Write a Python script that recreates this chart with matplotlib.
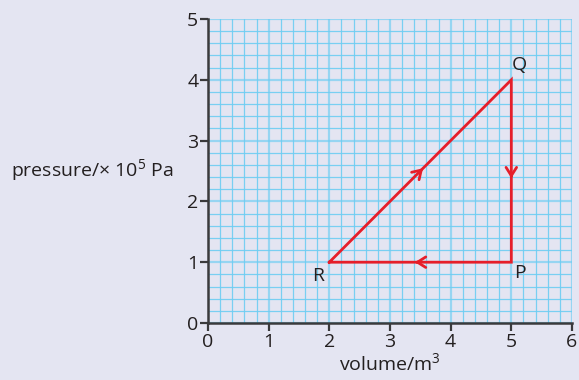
import matplotlib.pyplot as plt
import numpy as np

plt.rcParams['font.family'] = ['Open Sans', 'DejaVu Sans']
plt.rcParams['mathtext.fontset'] = 'custom'
plt.rcParams['mathtext.rm'] = 'Open Sans'

# cycle R -> Q -> P -> R
cycle_labels = ["R", "Q", "P"]
volume = [2, 5, 5]
pressure = [1, 4, 1]
# where the direction arrows sit along each leg (fraction of the leg)
arrow_frac = [0.515, 0.54, 0.53]

bg = "#e4e5f2"
grid_col = "#6dcdf3"
red = "#e61e2a"
ink = "#231f20"

fig = plt.figure(figsize=(5.79, 3.80), dpi=100, facecolor=bg)
ax = fig.add_axes([0.3592, 0.15, 0.6287, 0.80], facecolor=bg)

ax.set_xlim(0, 6)
ax.set_ylim(0, 5)
ax.set_xticks(np.arange(0, 7))
ax.set_yticks(np.arange(0, 6))
ax.set_xticks(np.arange(0, 6.01, 0.2), minor=True)
ax.set_yticks(np.arange(0, 5.01, 0.2), minor=True)
ax.grid(which="minor", color=grid_col, lw=0.9, alpha=0.9)
ax.grid(which="major", color=grid_col, lw=1.6, alpha=0.65)
ax.set_axisbelow(True)
ax.tick_params(which="minor", length=0)
ax.tick_params(which="major", length=6, width=1.6, color="#3a3a3c",
               labelsize=14, labelcolor=ink)
ax.tick_params(axis="x", pad=1)
ax.tick_params(axis="y", pad=1)
for s in ["top", "right"]:
    ax.spines[s].set_visible(False)
for s in ["left", "bottom"]:
    ax.spines[s].set_color("#3a3a3c")
    ax.spines[s].set_linewidth(1.8)
    ax.spines[s].set_zorder(5)

ax.set_xlabel(r"volume/m$^3$", fontsize=14, color=ink, labelpad=1)
ax.set_ylabel(r"pressure/$\times$ 10$^5$ Pa", fontsize=14, color=ink,
              rotation=0, ha="right", va="center", labelpad=10)

# closed cycle
xs = volume + volume[:1]
ys = pressure + pressure[:1]
ax.plot(xs, ys, color=red, lw=2, solid_joinstyle="miter", zorder=3)

# direction chevrons
for i in range(3):
    x0, y0 = xs[i], ys[i]
    x1, y1 = xs[i + 1], ys[i + 1]
    f = arrow_frac[i]
    mx, my = x0 + f * (x1 - x0), y0 + f * (y1 - y0)
    dx, dy = (x1 - x0) * 0.02, (y1 - y0) * 0.02
    ax.annotate("", xy=(mx, my), xytext=(mx - dx, my - dy),
                arrowprops=dict(arrowstyle="->,head_length=0.6,head_width=0.38",
                                color=red, lw=2, shrinkA=0, shrinkB=0),
                zorder=4)

label_pos = {"R": (1.81, 0.77), "Q": (5.14, 4.24), "P": (5.14, 0.82)}
for name in cycle_labels:
    lx, ly = label_pos[name]
    ax.text(lx, ly, name, fontsize=14, color=ink, ha="center", va="center")

fig.savefig("out.png", dpi=100, facecolor=bg)
